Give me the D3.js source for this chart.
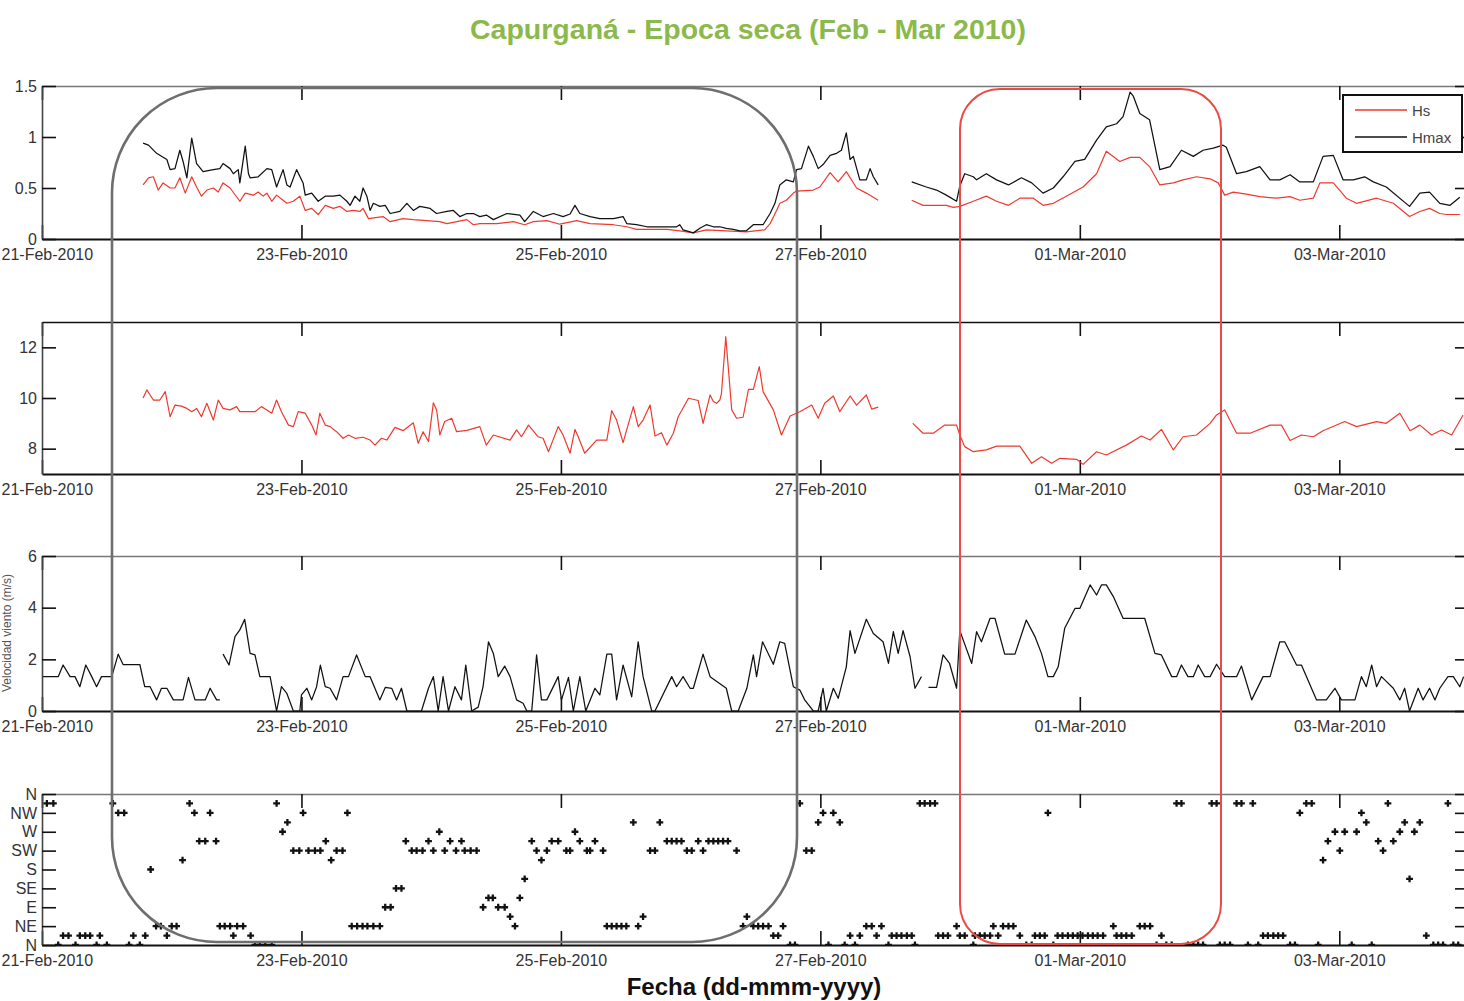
<!DOCTYPE html>
<html>
<head>
<meta charset="utf-8">
<script src="https://cdn.jsdelivr.net/npm/d3@7"></script>
<style>
  body { margin: 0; background: #fff; }
  svg { display: block; }
  text { font-family: "Liberation Sans", Arial, Helvetica, sans-serif; }
</style>
</head>
<body>
<svg id="chart" width="1464" height="1001"></svg>
<script>
// ---- Data: times are hours after 21-Feb-2010 00:00; null marks a gap ----
const hmaxHours = [18.7,19.7,21.2,23.1,23.7,24.6,25.5,26.1,26.8,27.7,
  28.6,29.8,31.7,32.9,33.5,34.8,35.4,36.3,36.6,37.6,
  38.2,38.5,40.0,41.6,42.5,43.4,44.6,45.3,45.9,47.1,
  48.3,48.7,49.9,51.1,52.4,53.9,55.1,56.4,57.0,57.9,
  58.8,59.4,60.1,60.7,61.3,62.5,63.5,64.4,66.2,67.5,
  68.7,69.9,71.8,73.0,74.9,76.1,77.3,78.6,79.8,81.0,
  82.2,83.5,86.0,88.4,89.3,90.9,92.7,94.6,96.4,97.7,
  98.6,99.5,101.4,103.2,105.7,107.5,108.2,110.0,111.9,114.9,
  117.4,118.0,118.6,120.5,121.7,122.9,124.2,125.4,126.6,127.9,
  129.1,130.3,131.6,133.4,134.7,135.6,136.5,137.7,139.0,139.6,
  140.5,141.8,142.7,143.6,144.5,145.8,147.0,147.9,148.8,149.5,
  150.1,151.3,152.5,153.2,153.8,154.7,157.8,160.9,163.6,165.5,
  167.3,169.2,169.8,170.7,172.3,172.9,174.7,176.6,178.8,181.2,
  183.1,185.2,187.1,188.9,191.1,192.9,195.1,196.9,198.8,200.0,
  201.3,201.9,203.1,204.9,206.8,208.7,210.8,213.0,214.8,216.7,
  218.5,219.1,221.0,222.8,225.3,227.2,229.0,230.9,232.7,235.2,
  237.0,238.9,240.7,242.6,244.7,246.3,248.7,253.0,254.9,256.7,
  258.6,260.5,262.3];
const hmaxValues = [0.94,0.92,0.84,0.78,0.68,0.69,0.87,0.76,0.60,0.99,
  0.74,0.66,0.68,0.69,0.74,0.69,0.64,0.68,0.55,0.91,
  0.64,0.60,0.61,0.69,0.68,0.51,0.68,0.53,0.51,0.68,
  0.55,0.43,0.45,0.37,0.42,0.42,0.43,0.37,0.33,0.42,
  0.37,0.50,0.42,0.28,0.35,0.32,0.33,0.25,0.27,0.35,
  0.28,0.32,0.30,0.25,0.27,0.28,0.22,0.25,0.25,0.22,
  0.235,0.19,0.25,0.235,0.17,0.27,0.22,0.25,0.22,0.245,
  0.33,0.25,0.22,0.20,0.20,0.22,0.15,0.14,0.12,0.12,
  0.12,0.14,0.09,0.06,0.105,0.14,0.12,0.12,0.105,0.095,
  0.08,0.08,0.14,0.14,0.25,0.35,0.53,0.58,0.56,0.68,
  0.69,0.91,0.81,0.69,0.73,0.82,0.84,0.87,1.04,0.78,
  0.81,0.58,0.58,0.69,0.61,0.53,null,0.56,0.51,0.48,
  0.43,0.37,0.52,0.64,0.61,0.58,0.64,0.58,0.53,0.60,
  0.55,0.45,0.50,0.61,0.76,0.78,0.97,1.10,1.13,1.20,
  1.44,1.40,1.23,1.17,0.68,0.71,0.87,0.81,0.87,0.89,
  0.92,0.90,0.64,0.66,0.71,0.58,0.58,0.63,0.56,0.56,
  0.81,0.82,0.58,0.58,0.61,0.56,0.51,0.32,0.45,0.46,
  0.35,0.33,0.41];

const hsHours = [18.7,19.7,20.6,21.5,22.4,23.7,24.6,25.5,26.5,27.7,
  28.6,29.5,30.5,31.7,32.6,33.5,34.8,36.6,37.6,39.1,
  40.0,40.9,41.6,42.5,43.4,44.6,45.3,46.5,47.7,48.7,
  49.9,51.1,52.4,53.9,55.1,56.4,57.6,58.8,59.4,60.4,
  63.1,64.4,66.8,68.7,73.6,74.9,78.6,79.8,81.0,84.1,
  87.2,89.3,90.9,93.4,95.8,98.9,101.4,105.7,108.2,110.0,
  115.6,118.0,120.5,122.9,126.6,130.3,133.7,134.7,135.9,136.5,
  137.7,139.0,139.6,142.7,143.9,145.8,147.3,148.8,150.7,152.5,
  154.7,157.8,160.9,163.0,164.9,167.3,168.6,169.8,172.3,174.7,
  176.6,178.8,180.9,183.4,185.2,187.1,189.5,192.6,195.1,196.9,
  199.4,201.3,203.1,204.9,206.8,209.3,211.1,213.6,216.1,217.6,
  218.8,220.4,222.8,225.3,228.4,230.9,232.7,235.2,236.4,238.9,
  241.3,243.2,246.9,250.0,253.0,254.9,256.7,258.6,259.8,262.3];
const hsValues = [0.53,0.60,0.61,0.48,0.55,0.50,0.50,0.60,0.45,0.61,
  0.51,0.42,0.48,0.50,0.46,0.55,0.50,0.37,0.45,0.43,
  0.46,0.42,0.45,0.37,0.43,0.38,0.35,0.37,0.42,0.28,
  0.30,0.24,0.33,0.30,0.32,0.27,0.28,0.27,0.30,0.20,
  0.22,0.17,0.20,0.19,0.17,0.15,0.19,0.14,0.15,0.15,
  0.17,0.14,0.17,0.18,0.145,0.18,0.15,0.14,0.12,0.095,
  0.095,0.08,0.06,0.09,0.08,0.07,0.09,0.15,0.28,0.35,
  0.38,0.45,0.47,0.48,0.51,0.65,0.56,0.66,0.50,0.45,
  0.38,null,0.38,0.33,0.33,0.33,0.31,0.32,0.37,0.42,
  0.37,0.33,0.40,0.40,0.33,0.35,0.42,0.51,0.64,0.86,
  0.76,0.80,0.80,0.71,0.53,0.55,0.58,0.61,0.59,0.55,
  0.43,0.46,0.44,0.415,0.40,0.415,0.38,0.40,0.55,0.55,
  0.40,0.35,0.40,0.35,0.22,0.27,0.30,0.25,0.24,0.24];

const tpHours = [18.7,19.4,20.0,20.6,21.8,22.8,23.7,24.6,25.8,26.8,
  27.7,28.6,29.5,30.5,31.7,32.6,33.5,34.8,36.0,36.6,
  39.4,40.6,41.6,42.5,43.4,44.3,45.6,46.5,47.4,48.7,
  49.9,50.7,51.4,52.4,53.3,54.5,55.7,56.7,57.9,59.4,
  60.7,61.6,62.8,63.8,65.3,66.8,68.7,69.6,70.5,71.5,
  72.4,73.0,73.6,74.5,75.8,76.7,78.6,81.0,82.2,83.5,
  86.6,87.8,88.7,90.0,91.8,92.7,93.7,95.5,96.4,97.7,
  98.6,99.2,100.4,102.6,104.5,105.4,106.3,107.5,109.4,110.3,
  111.2,112.5,113.4,114.6,115.6,116.8,117.7,119.6,121.4,122.3,
  123.6,124.2,124.8,125.4,125.7,126.5,126.9,127.6,128.5,129.7,
  130.7,131.6,132.7,133.4,135.3,136.8,138.4,140.2,142.4,143.6,
  144.8,146.4,147.6,149.5,150.7,152.5,153.5,154.7,157.9,161.1,
  163.0,164.9,167.0,169.2,169.8,170.7,172.3,174.7,176.6,180.9,
  183.1,184.9,186.8,188.3,191.4,192.6,195.1,196.9,200.6,203.4,
  205.0,207.1,209.3,211.1,213.6,216.1,217.3,218.8,221.0,223.5,
  227.2,229.3,230.9,233.0,235.2,237.0,241.0,243.2,246.9,248.7,
  251.2,253.1,254.9,257.1,258.9,260.8,262.9];
const tpValues = [10.0,10.32,10.12,9.92,9.92,10.25,9.26,9.72,9.68,9.59,
  9.46,9.59,9.26,9.79,9.13,9.92,9.59,9.53,9.66,9.46,
  9.46,9.66,9.53,9.40,9.92,9.46,8.93,8.87,9.46,9.40,
  8.93,8.54,9.40,8.93,8.87,8.67,8.41,8.54,8.41,8.45,
  8.34,8.14,8.41,8.34,8.84,8.71,9.02,8.21,8.67,8.28,
  9.81,9.53,8.54,9.07,9.20,8.67,8.72,8.87,8.14,8.54,
  8.34,8.74,8.47,8.93,8.47,8.41,7.88,8.87,8.54,7.82,
  8.76,8.47,7.82,8.34,8.34,9.50,9.13,8.24,9.66,8.87,
  9.13,9.72,8.50,8.63,8.14,8.61,9.26,9.99,9.90,9.00,
  10.12,9.86,9.79,9.92,10.18,12.42,11.37,9.53,9.20,9.24,
  10.34,10.34,11.24,10.25,9.53,8.54,9.29,9.46,9.72,9.20,
  9.79,10.08,9.46,10.08,9.72,10.12,9.56,9.64,null,9.00,
  8.61,8.61,8.93,8.93,8.54,8.08,7.88,7.95,8.10,8.10,
  7.42,7.68,7.42,7.62,7.58,7.38,7.88,7.75,8.14,8.50,
  8.34,8.76,7.95,8.47,8.54,9.00,9.33,9.53,8.61,8.61,
  8.93,8.93,8.32,8.54,8.47,8.71,9.07,8.87,9.07,9.00,
  9.40,8.71,8.93,8.54,8.74,8.54,9.33];

const windHours = [0.2,3.0,3.9,5.2,6.1,7.0,8.1,9.2,10.1,11.0,
  12.9,14.1,15.0,18.1,19.0,20.0,21.2,22.1,23.1,24.3,
  26.1,27.1,28.3,30.2,31.1,32.3,32.9,33.2,33.5,34.6,
  35.7,36.6,37.5,38.5,39.4,40.3,42.2,43.4,44.3,45.3,
  46.5,47.7,48.0,49.0,49.9,50.8,51.5,52.4,53.3,54.5,
  55.7,56.7,58.2,59.8,60.7,62.5,63.5,64.7,65.6,66.5,
  67.5,70.2,71.5,72.4,73.3,74.2,75.2,76.4,77.6,78.4,
  79.5,80.7,81.6,82.6,83.5,84.4,85.6,86.6,87.8,89.0,
  89.7,90.6,91.5,92.4,93.4,95.5,96.1,97.4,98.3,99.5,
  100.6,102.3,103.2,104.5,105.4,106.3,107.5,109.1,110.3,111.2,
  112.8,113.4,116.5,117.4,118.6,119.9,120.5,122.3,123.6,126.6,
  127.6,128.8,130.4,131.6,132.2,133.3,135.3,136.5,137.4,139.0,
  140.2,141.1,142.7,143.6,144.5,145.1,146.4,147.3,148.8,149.5,
  150.4,152.5,153.8,155.6,156.6,157.5,158.4,159.3,160.6,161.5,
  162.7,163.3,164.0,165.5,166.7,167.9,169.2,169.8,172.0,172.9,
  173.8,175.4,176.3,178.1,180.0,182.1,183.7,184.9,186.1,187.1,
  188.0,189.2,191.1,192.0,193.9,195.1,196.0,196.9,198.2,200.0,
  204.0,205.9,207.1,209.0,209.9,210.8,212.0,213.0,213.9,215.1,
  216.1,217.3,218.8,221.0,221.9,223.8,225.9,227.2,229.0,229.9,
  232.1,233.0,235.8,237.6,239.2,240.4,242.9,244.1,245.0,246.0,
  246.9,247.8,250.0,251.2,252.1,253.0,254.6,255.5,256.7,257.7,
  258.6,260.1,261.1,262.3,263.0];
const windValues = [1.33,1.33,1.78,1.33,1.33,0.94,1.78,1.33,0.94,1.33,
  1.33,2.2,1.8,1.8,0.94,0.94,0.43,0.88,0.88,0.43,
  0.43,1.3,0.43,0.43,0.88,0.43,0.43,null,2.2,1.78,
  2.88,3.14,3.55,2.23,2.17,1.33,1.33,0,0.94,0.68,
  0,0,0.62,0.88,0.43,0.94,1.78,0.94,0.88,0.43,
  1.33,1.33,2.17,1.33,1.33,0.43,0.91,0.88,0.43,0.88,
  0,0,0.88,1.33,0,1.33,0,0.94,0.43,1.78,
  0,0.15,0.94,2.68,2.23,1.33,1.74,1.33,0.43,0.30,
  0,0,2.17,0.43,0.43,1.33,0.43,1.3,0,1.33,
  0,0.88,0.62,2.2,2.2,0.43,1.78,0.55,2.68,1.33,
  0,0,1.33,0.94,1.33,0.88,0.88,2.2,1.33,0.88,
  0,0,0.88,2.17,1.33,2.68,1.81,2.68,2.62,0.94,
  0.81,0.43,0,0,0.88,0,0.88,0.49,1.71,3.11,
  2.23,3.55,3.0,2.68,1.84,3.07,2.23,3.11,2.1,0.88,
  1.33,null,0.91,0.91,2.17,1.84,0.88,3.11,1.84,3.07,
  2.68,3.59,3.59,2.2,2.2,3.52,2.88,2.23,1.33,1.33,
  1.71,3.2,3.97,3.97,4.88,4.49,4.88,4.88,4.43,3.59,
  3.59,2.23,2.17,1.33,1.33,1.78,1.33,1.33,1.78,1.33,
  1.33,1.81,1.33,1.33,1.74,0.43,1.33,1.33,2.68,2.68,
  1.78,1.78,0.43,0.43,0.88,0.43,0.43,1.33,0.94,1.78,
  0.94,1.33,0.88,0.43,0.88,0,0.88,0.43,0.88,0.43,
  0.88,1.33,1.33,0.94,1.33];

const dirHours = [0.9,2.1,3.0,3.9,4.9,6.2,7.0,8.0,8.9,10.1,
  10.7,12.0,13.1,14.1,15.2,16.1,16.9,18.1,19.1,20.1,
  21.1,22.0,23.1,24.0,24.9,26.0,27.3,28.2,29.1,30.2,
  31.1,32.2,32.9,33.8,34.8,35.4,36.1,37.2,38.6,39.4,
  40.3,41.3,42.5,43.4,44.5,45.4,46.5,47.6,48.3,49.3,
  50.5,51.5,52.5,53.5,54.5,55.6,56.5,57.3,58.3,59.3,
  60.2,61.3,62.5,63.5,64.5,65.5,66.5,67.3,68.4,69.3,
  70.4,71.5,72.4,73.5,74.5,75.5,76.6,77.6,78.2,79.3,
  80.4,81.6,82.6,83.4,84.4,85.6,86.6,87.5,88.4,89.3,
  90.6,91.5,92.4,93.4,94.3,95.5,97.0,97.7,98.6,99.5,
  100.8,101.4,102.3,103.8,104.5,105.4,106.3,107.2,108.1,109.4,
  110.3,111.2,112.5,113.4,114.3,115.6,116.5,117.4,118.3,119.3,
  120.2,121.4,122.3,123.3,124.2,125.1,126.0,126.9,128.5,129.7,
  130.4,131.6,132.5,133.4,134.4,135.3,136.2,137.1,138.4,139.3,
  140.2,141.4,142.4,143.6,144.5,145.5,146.4,147.6,148.5,149.5,
  150.4,151.3,152.5,153.5,154.4,155.3,156.6,157.2,158.1,159.0,
  160.0,160.9,161.5,162.4,163.3,164.3,165.2,165.8,166.7,167.6,
  169.2,169.8,170.7,172.3,172.6,173.5,174.4,175.4,176.0,176.9,
  177.8,178.8,179.7,180.9,182.1,183.1,183.7,184.6,185.5,186.1,
  187.1,187.9,188.8,189.8,190.7,191.6,192.5,193.5,194.4,195.3,
  196.3,198.2,198.8,199.7,200.6,201.6,203.1,204.0,205.0,206.2,
  207.1,208.0,209.0,209.9,210.8,212.0,213.0,213.9,214.8,216.4,
  217.3,217.9,218.8,219.8,221.0,221.9,223.1,224.0,225.0,225.9,
  226.8,227.8,228.7,229.6,230.9,231.8,232.7,233.9,234.9,236.1,
  237.0,237.9,239.2,240.1,241.0,242.3,243.2,244.1,245.0,246.0,
  247.2,248.1,249.0,250.0,251.2,252.1,253.0,253.9,254.9,256.1,
  257.4,258.3,259.2,260.1,261.1,262.0];
const dirDegrees = [337.5,337.5,0,22.5,22.5,0,22.5,22.5,22.5,0,
  22.5,0,337.5,315,315,0,22.5,0,22.5,180,
  45,45,22.5,45,45,202.5,337.5,315,247.5,247.5,
  315,247.5,45,45,45,22.5,45,45,22.5,0,
  0,0,0,337.5,270,292.5,225,225,315,225,
  225,225,247.5,202.5,225,225,315,45,45,45,
  45,45,45,90,90,135,135,247.5,225,225,
  225,247.5,225,270,225,247.5,225,247.5,225,225,
  225,90,112.5,112.5,90,90,67.5,45,112.5,157.5,
  247.5,225,202.5,225,247.5,247.5,225,225,270,247.5,
  225,225,247.5,225,45,45,45,45,45,292.5,
  45,67.5,225,225,292.5,247.5,247.5,247.5,247.5,225,
  225,247.5,225,247.5,247.5,247.5,247.5,247.5,225,45,
  67.5,45,45,45,45,22.5,22.5,45,0,0,
  337.5,225,225,292.5,315,0,315,292.5,0,22.5,
  0,22.5,45,45,22.5,45,0,22.5,22.5,22.5,
  22.5,22.5,0,337.5,337.5,337.5,337.5,22.5,22.5,22.5,
  45,22.5,22.5,0,22.5,22.5,22.5,22.5,45,22.5,
  45,45,45,22.5,0,0,22.5,22.5,22.5,315,
  0,22.5,22.5,22.5,22.5,22.5,22.5,22.5,22.5,22.5,
  22.5,45,22.5,22.5,22.5,22.5,45,45,45,0,
  22.5,0,0,337.5,337.5,0,0,0,0,337.5,
  337.5,0,0,0,337.5,337.5,0,337.5,0,22.5,
  22.5,22.5,22.5,22.5,0,0,315,337.5,337.5,0,
  202.5,247.5,270,225,270,0,270,315,292.5,0,
  247.5,225,337.5,247.5,270,292.5,157.5,270,292.5,22.5,
  0,0,0,337.5,0,0];

// ---- Axis labels ----
const dateTicks = ["2010-02-21","2010-02-23","2010-02-25","2010-02-27","2010-03-01","2010-03-03"];
const hsTicks = [0, 0.5, 1, 1.5];
const tpTicks = [8, 10, 12];
const windTicks = [0, 2, 4, 6];
const dirTicks = [0, 45, 90, 135, 180, 225, 270, 315, 360];
const dirTickLabels = ["N", "NE", "E", "SE", "S", "SW", "W", "NW", "N"];
const legendLabels = ["Hs", "Hmax"];
const titleText = "Capurganá - Epoca seca (Feb - Mar 2010)";
const xLabelText = "Fecha (dd-mmm-yyyy)";
const windLabelText = "Velocidad viento (m/s)";

// ---- Drawing ----
const svg = d3.select("#chart");
const t0 = Date.UTC(2010, 1, 21);
const toDate = h => new Date(t0 + h * 3600e3);
const series = (hours, values) => hours.map((h, i) => ({ t: toDate(h), v: values[i] }));

const x = d3.scaleUtc()
  .domain([new Date(t0), new Date(Date.UTC(2010, 2, 4))])
  .range([42, 1469]);

const fmtDate = d3.utcFormat("%d-%b-%Y");
const tickDates = dateTicks.map(s => new Date(s + "T00:00:00Z"));

const RED = "#f0392e", BLACK = "#111";
const TICK = 14;

function panel(id, top, bottom, domain, yTicks, yFmt, topStroke) {
  const y = d3.scaleLinear().domain(domain).range([bottom, top]);
  const g = svg.append("g").attr("class", "panel");

  svg.append("clipPath").attr("id", "clip-" + id)
    .append("rect")
    .attr("x", x.range()[0]).attr("y", top)
    .attr("width", x.range()[1] - x.range()[0]).attr("height", bottom - top);

  const style = (sel, col, w) => {
    sel.select(".domain").attr("stroke", col).attr("stroke-width", w);
    sel.selectAll(".tick line").attr("stroke", "#111").attr("stroke-width", 1.6);
    sel.selectAll(".tick text").attr("fill", "#333").style("font-size", "16px");
  };

  // top and bottom date axes with inward ticks
  g.append("g").attr("transform", `translate(0,${top})`)
    .call(d3.axisTop(x).tickValues(tickDates).tickFormat("").tickSizeInner(-TICK).tickSizeOuter(0))
    .call(s => style(s, topStroke, 1.6));
  g.append("g").attr("transform", `translate(0,${bottom})`)
    .call(d3.axisBottom(x).tickValues(tickDates).tickFormat(fmtDate).tickSizeInner(-TICK).tickSizeOuter(0).tickPadding(10))
    .call(s => style(s, "#111", 2))
    // the first date sits at the left edge of the page: start it there so it stays whole
    .call(s => s.select(".tick text").attr("text-anchor", "start").attr("x", 1 - x.range()[0]));

  // left and right value axes
  g.append("g").attr("transform", `translate(${x.range()[0]},0)`)
    .call(d3.axisLeft(y).tickValues(yTicks).tickFormat(yFmt).tickSizeInner(-TICK).tickSizeOuter(0).tickPadding(5))
    .call(s => style(s, "#444", 1.6));
  g.append("g").attr("transform", `translate(${x.range()[1]},0)`)
    .call(d3.axisRight(y).tickValues(yTicks).tickFormat("").tickSizeInner(-TICK).tickSizeOuter(0))
    .call(s => style(s, "#444", 1.6));

  g.selectAll(".domain").attr("fill", "none");
  const plot = svg.append("g").attr("clip-path", `url(#clip-${id})`);
  return { y, plot };
}

function drawLine(p, data, color, width) {
  const line = d3.line()
    .defined(d => d.v != null)
    .x(d => x(d.t))
    .y(d => p.y(d.v));
  p.plot.append("path")
    .datum(data)
    .attr("fill", "none")
    .attr("stroke", color)
    .attr("stroke-width", width)
    .attr("stroke-linejoin", "round")
    .attr("d", line);
}

// Panel 1: wave heights
const p1 = panel("hs", 86, 239, [0, 1.5], hsTicks, d3.format(""), "#777");
drawLine(p1, series(hsHours, hsValues), RED, 1.2);
drawLine(p1, series(hmaxHours, hmaxValues), BLACK, 1.25);

// Panel 2: period
const p2 = panel("tp", 322, 474, [7, 13], tpTicks, d3.format("d"), "#111");
drawLine(p2, series(tpHours, tpValues), RED, 1.2);

// Panel 3: wind speed
const p3 = panel("wind", 556, 711, [0, 6], windTicks, d3.format("d"), "#777");
drawLine(p3, series(windHours, windValues), BLACK, 1.25);

// Panel 4: direction
const p4 = panel("dir", 794, 945, [0, 360], dirTicks, (d, i) => dirTickLabels[i], "#777");
p4.plot.selectAll("path.dir")
  .data(series(dirHours, dirDegrees))
  .join("path")
  .attr("class", "dir")
  .attr("transform", d => `translate(${x(d.t)},${p4.y(d.v)})`)
  .attr("d", d3.symbol(d3.symbolCross, 26))
  .attr("fill", BLACK);

// Legend for panel 1
const lg = svg.append("g").attr("transform", "translate(1343,95)");
lg.append("rect").attr("width", 119).attr("height", 57)
  .attr("fill", "#fff").attr("stroke", "#111").attr("stroke-width", 2);
const legendColors = [RED, BLACK];
legendLabels.forEach((lab, i) => {
  const yy = 15 + i * 27;
  lg.append("line").attr("x1", 12).attr("x2", 64).attr("y1", yy).attr("y2", yy)
    .attr("stroke", legendColors[i]).attr("stroke-width", 1.3);
  lg.append("text").attr("x", 69).attr("y", yy + 6).text(lab)
    .attr("fill", "#444").style("font-size", "15px");
});

// Titles
svg.append("text").attr("x", 748).attr("y", 39).attr("text-anchor", "middle")
  .style("font-size", "28.5px").style("font-weight", "bold").attr("fill", "#8bb94b")
  .text(titleText);
svg.append("text").attr("x", 754).attr("y", 995).attr("text-anchor", "middle")
  .style("font-size", "24px").style("font-weight", "bold").attr("fill", "#111")
  .text(xLabelText);

// Wind-speed axis title, kept small against the left edge
svg.append("text").attr("transform", "translate(11,633) rotate(-90)")
  .attr("text-anchor", "middle").style("font-size", "12px").attr("fill", "#555")
  .text(windLabelText);

// Highlight frames
svg.append("rect").attr("x", 112).attr("y", 88).attr("width", 685).attr("height", 854)
  .attr("rx", 105).attr("ry", 105)
  .attr("fill", "none").attr("stroke", "#6e6e6e").attr("stroke-width", 2.6);
svg.append("rect").attr("x", 960).attr("y", 89).attr("width", 261).attr("height", 855)
  .attr("rx", 40).attr("ry", 40)
  .attr("fill", "none").attr("stroke", "#ec4a44").attr("stroke-width", 2);
</script>
</body>
</html>
